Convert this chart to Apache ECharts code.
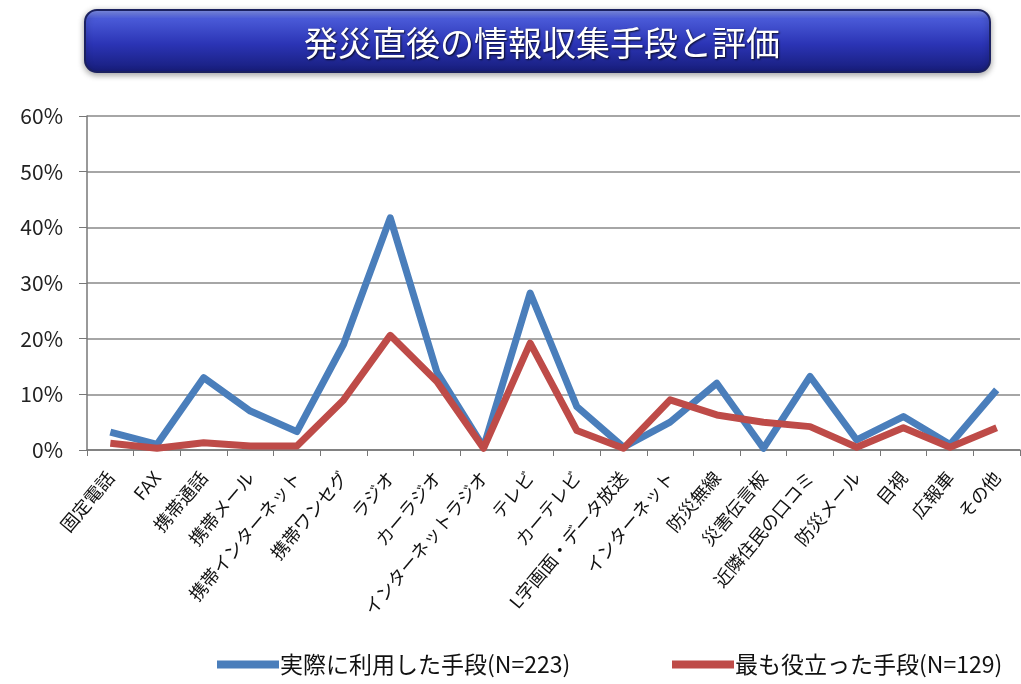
<!DOCTYPE html>
<html><head><meta charset="utf-8">
<script src="https://cdn.jsdelivr.net/npm/echarts@6/dist/echarts.min.js"></script>
<style>html,body{margin:0;padding:0;background:#fff}#c{width:1021px;height:684px}</style>
</head><body><div id="c"></div>
<script>
const categories = ['固定電話','FAX','携帯通話','携帯メール','携帯インターネット','携帯ワンセグ','ラジオ','カーラジオ','インターネットラジオ','テレビ','カーテレビ','L字画面・データ放送','インターネット','防災無線','災害伝言板','近隣住民の口コミ','防災メール','目視','広報車','その他'];
const usedValues = [3.2, 1.0, 13.0, 7.0, 3.3, 19.0, 41.7, 14.0, 0.5, 28.2, 7.8, 0.5, 5.0, 12.0, 0.3, 13.2, 1.8, 6.0, 1.0, 10.8];
const usefulValues = [1.2, 0.3, 1.3, 0.7, 0.7, 9.0, 20.6, 12.3, 0.3, 19.2, 3.5, 0.3, 9.0, 6.3, 5.0, 4.2, 0.5, 4.0, 0.5, 4.0];
const seriesNames = ['実際に利用した手段(N=223)', '最も役立った手段(N=129)'];
const yTicks = [0, 10, 20, 30, 40, 50, 60];
const titleText = '発災直後の情報収集手段と評価';

const font = '"Noto Sans CJK JP", "Noto Sans", sans-serif';
const legendText = { fontSize: 23, color: '#111', fontFamily: font, padding: [0, 0, 0, -4] };
const chart = echarts.init(document.getElementById('c'));
chart.setOption({
  animation: false,
  backgroundColor: '#fff',
  graphic: [{
    type: 'rect', z: 0,
    shape: { x: 85, y: 10, width: 905, height: 62, r: 12 },
    style: {
      fill: new echarts.graphic.LinearGradient(0, 0, 0, 1, [
        { offset: 0, color: '#8c9cf0' },
        { offset: 0.15, color: '#4a5ad8' },
        { offset: 0.55, color: '#2b34b5' },
        { offset: 1, color: '#161c78' }
      ]),
      stroke: '#1b2160', lineWidth: 2,
      shadowBlur: 6, shadowColor: 'rgba(0,0,0,0.35)', shadowOffsetY: 2
    }
  }],
  title: {
    text: titleText, left: 537, top: 21, textAlign: 'center', z: 10,
    textStyle: { color: '#fff', fontSize: 34, fontWeight: 'normal', fontFamily: font,
      textShadowColor: 'rgba(0,0,0,0.8)', textShadowBlur: 2, textShadowOffsetX: 1, textShadowOffsetY: 1 }
  },
  grid: { left: 87, right: 1, top: 116, bottom: 234, containLabel: false },
  legend: [
    { left: 212, top: 648, itemWidth: 62, itemHeight: 8, icon: 'rect',
      textStyle: legendText, data: [seriesNames[0]] },
    { left: 667, top: 648, itemWidth: 62, itemHeight: 8, icon: 'rect',
      textStyle: legendText, data: [seriesNames[1]] }
  ],
  xAxis: {
    type: 'category', data: categories, boundaryGap: true,
    axisLine: { lineStyle: { color: '#777', width: 1.5 } },
    axisTick: { show: true, alignWithLabel: false, length: 6, lineStyle: { color: '#777' } },
    axisLabel: { rotate: 50, interval: 0, fontSize: 18, color: '#111', fontFamily: font, margin: 24 }
  },
  yAxis: {
    type: 'value', min: 0, max: 60, interval: 10,
    axisLine: { show: true, lineStyle: { color: '#777', width: 1.5 } },
    axisTick: { show: true, length: 8, lineStyle: { color: '#777' } },
    splitLine: { lineStyle: { color: '#888', width: 1.5 } },
    axisLabel: { formatter: v => yTicks.includes(v) ? v + '%' : '', fontSize: 21, color: '#222', fontFamily: font, margin: 24 }
  },
  series: [
    { name: seriesNames[0], type: 'line', data: usedValues, symbol: 'none',
      lineStyle: { width: 7, color: '#4a7ebb', join: 'round' }, itemStyle: { color: '#4a7ebb' }, z: 2 },
    { name: seriesNames[1], type: 'line', data: usefulValues, symbol: 'none',
      lineStyle: { width: 7, color: '#be4b48', join: 'round' }, itemStyle: { color: '#be4b48' }, z: 3 }
  ]
});
</script></body></html>
